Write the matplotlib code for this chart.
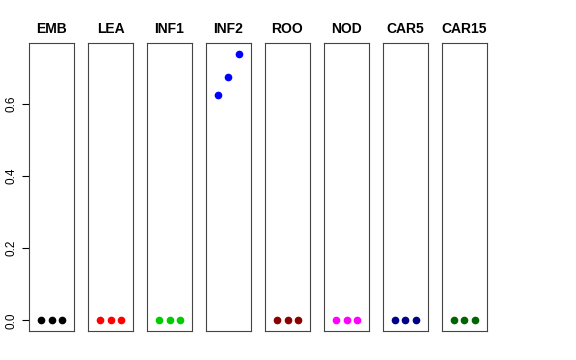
import numpy as np
import matplotlib.pyplot as plt

plt.rcParams["font.family"] = ["Liberation Sans", "DejaVu Sans"]

# tissues and their values (three replicates each)
tissues = ["EMB", "LEA", "INF1", "INF2", "ROO", "NOD", "CAR5", "CAR15"]
colors = ["black", "#FF0000", "#00CD00", "#0000FF", "#8B0000", "#FF00FF", "#00008B", "#006400"]
reps = [1, 2, 3]
values = {
    "EMB": [0.0, 0.0, 0.0],
    "LEA": [0.0, 0.0, 0.0],
    "INF1": [0.0, 0.0, 0.0],
    "INF2": [0.625, 0.675, 0.74],
    "ROO": [0.0, 0.0, 0.0],
    "NOD": [0.0, 0.0, 0.0],
    "CAR5": [0.0, 0.0, 0.0],
    "CAR15": [0.0, 0.0, 0.0],
}

fig = plt.figure(figsize=(5.76, 3.6), dpi=100)

ymax = max(max(v) for v in values.values())
pad = 0.04 * ymax
left0, step, w = 29 / 576, 59 / 576, 45 / 576
bottom, top = 1 - 331 / 360, 1 - 43 / 360

for i, t in enumerate(tissues):
    ax = fig.add_axes([left0 + i * step, bottom, w, top - bottom])
    ax.plot(reps, values[t], "o", color=colors[i], markersize=4.5)
    ax.set_xlim(0 - 0.16, 4 + 0.16)
    ax.set_ylim(0 - pad, ymax + pad)
    ax.set_title(t, fontsize=10, fontweight="bold", pad=7)
    ax.set_xticks([])
    for s in ax.spines.values():
        s.set_linewidth(0.8)
        s.set_color("#444444")
    if i == 0:
        ax.set_yticks([0.0, 0.2, 0.4, 0.6])
        ax.set_yticklabels(["0.0", "0.2", "0.4", "0.6"], rotation=90, va="center", fontsize=8.5)
        ax.tick_params(axis="y", length=5, width=0.8, pad=3)
    else:
        ax.set_yticks([])

fig.savefig("out.png", dpi=100)
